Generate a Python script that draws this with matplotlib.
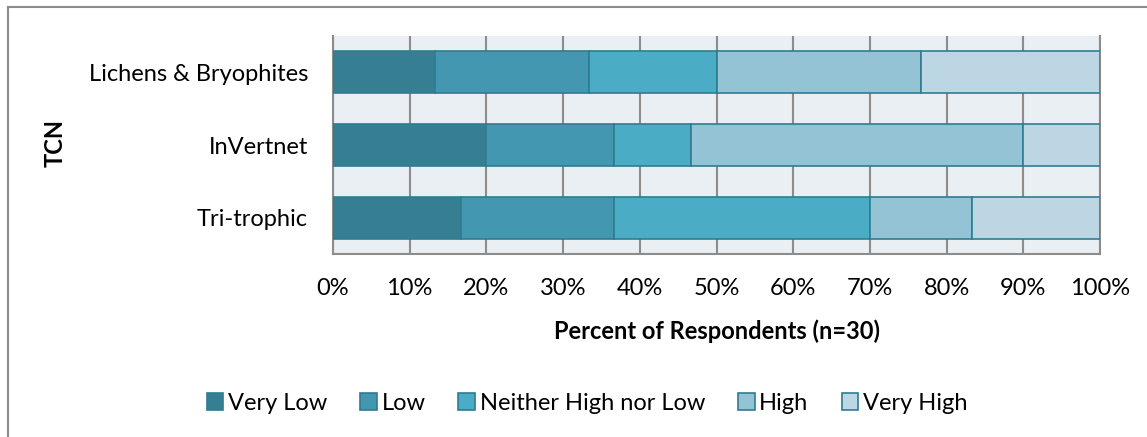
import matplotlib.pyplot as plt
from matplotlib.lines import Line2D
import numpy as np

# Data (counts out of 30 respondents)
categories = ['Tri-trophic', 'InVertnet', 'Lichens & Bryophites']
levels = ['Very Low', 'Low', 'Neither High nor Low', 'High', 'Very High']
very_low = [5, 6, 4]
low = [6, 5, 6]
neither = [10, 3, 5]
high = [4, 13, 8]
very_high = [5, 3, 7]
n_resp = 30

colors = ['#367e92', '#4397b0', '#4aacc5', '#93c3d5', '#bcd7e3']
edge = '#2f7c91'
W, H = 1147, 437
fs = 17

plt.rcParams['font.family'] = ['Lato', 'DejaVu Sans']

fig = plt.figure(figsize=(W / 100, H / 100), dpi=100)
ax = fig.add_axes([333 / W, 1 - 254 / H, 767 / W, 218 / H])

series = [very_low, low, neither, high, very_high]
y = np.arange(len(categories))
left = np.zeros(len(categories))
for vals, lab, c in zip(series, levels, colors):
    pct = np.array(vals) / n_resp * 100
    ax.barh(y, pct, left=left, height=0.575, color=c, edgecolor=edge,
            linewidth=1.2, label=lab, zorder=3)
    left += pct

ax.set_facecolor('#e9eff3')
ax.set_xlim(0, 100)
ax.set_ylim(-0.5, 2.5)
ax.set_xticks(np.arange(0, 101, 10))
ax.set_xticklabels([f'{v}%' for v in range(0, 101, 10)], fontsize=fs)
ax.set_yticks(y)
ax.set_yticklabels(categories, fontsize=fs)
ax.tick_params(axis='y', length=0, pad=18)
ax.tick_params(axis='x', length=0, pad=17)
ax.grid(axis='x', color='#8c8c8c', linewidth=1.5, zorder=1)
ax.set_axisbelow(True)
ax.spines['top'].set_visible(False)
for s in ['left', 'right', 'bottom']:
    ax.spines[s].set_color('#8c8c8c')
    ax.spines[s].set_linewidth(1.5)

ax.set_xlabel('Percent of Respondents (n=30)', fontsize=fs, fontweight='bold')
ax.xaxis.set_label_coords(0.5, (254 - 331) / 218)
ax.xaxis.label.set_va('center')
fig.text(55 / W, 1 - 143 / H, 'TCN', rotation=90, fontsize=fs,
         fontweight='bold', ha='center', va='center')

handles, labels = ax.get_legend_handles_labels()
fig.legend(handles, labels, loc='center', bbox_to_anchor=(587 / W, 1 - 403 / H),
           ncol=5, frameon=False, fontsize=fs, handlelength=0.7, handleheight=0.7,
           handletextpad=0.2, columnspacing=1.4)

# outer chart frame (top and left edges visible)
fig.lines.append(Line2D([8 / W, 8 / W], [0, 1 - 7 / H], transform=fig.transFigure,
                        color='#8c8c8c', linewidth=1.5))
fig.lines.append(Line2D([8 / W, 1], [1 - 7 / H, 1 - 7 / H], transform=fig.transFigure,
                        color='#8c8c8c', linewidth=1.5))

fig.savefig('out.png', dpi=100, facecolor='white')
